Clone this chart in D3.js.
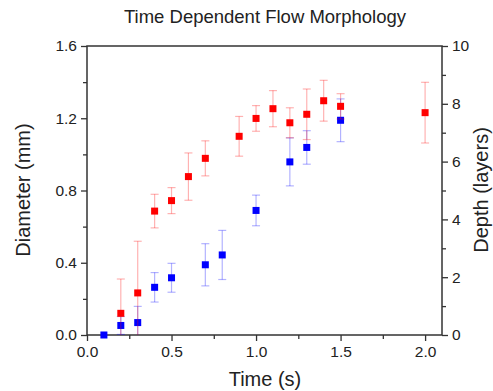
<!DOCTYPE html>
<html>
<head>
<meta charset="utf-8">
<script src="https://cdn.jsdelivr.net/npm/d3@7/dist/d3.min.js"></script>
<style>
  body { margin: 0; background: #fff; }
  svg { font-family: 'Liberation Sans', Arial, sans-serif; }
</style>
</head>
<body>
<svg id="chart" width="493" height="391"></svg>
<script>
// diameter (mm), left axis - red
const diaTime = [0.2, 0.3, 0.4, 0.5, 0.6, 0.7, 0.9, 1.0, 1.1, 1.2, 1.3, 1.4, 1.5, 2.0];
const diaValue = [0.12, 0.233, 0.686, 0.744, 0.877, 0.978, 1.1, 1.199, 1.253, 1.175, 1.222, 1.297, 1.266, 1.231];
const diaErr = [0.19, 0.286, 0.093, 0.072, 0.131, 0.097, 0.11, 0.071, 0.1, 0.083, 0.14, 0.113, 0.07, 0.168];

// depth (layers), right axis - blue
const depTime = [0.1, 0.2, 0.3, 0.4, 0.5, 0.7, 0.8, 1.0, 1.2, 1.3, 1.5];
const depValue = [0, 0.33, 0.43, 1.65, 1.98, 2.43, 2.77, 4.31, 5.99, 6.49, 7.43];
const depErr = [0, 0.31, 0.56, 0.51, 0.5, 0.73, 0.85, 0.53, 0.83, 0.58, 0.74];

const xTicks = [0, 0.5, 1.0, 1.5, 2.0];
const yLeftTicks = [0, 0.4, 0.8, 1.2, 1.6];
const yRightTicks = [0, 2, 4, 6, 8, 10];

const margin = { left: 87, right: 51, top: 46, bottom: 56 };
const svg = d3.select('#chart');
const width = +svg.attr('width');
const height = +svg.attr('height');
const innerWidth = width - margin.left - margin.right;
const innerHeight = height - margin.top - margin.bottom;
const g = svg.append('g').attr('transform', `translate(${margin.left},${margin.top})`);

const x = d3.scaleLinear().domain([0, 2.1]).range([0, innerWidth]);
const yL = d3.scaleLinear().domain([0, 1.6]).range([innerHeight, 0]);
const yR = d3.scaleLinear().domain([0, 10]).range([innerHeight, 0]);

const axisColor = '#333';

function styleAxis(sel) {
  sel.attr('font-family', null).attr('font-size', null);
  sel.select('.domain').remove();
  sel.selectAll('line').attr('stroke', axisColor).attr('stroke-width', 1.3);
  sel.selectAll('text').attr('fill', '#222').style('font-size', '15.5px');
}
function minor(sel) {
  sel.call(styleAxis);
  sel.selectAll('text').remove();
}

// minor ticks
g.append('g').attr('transform', `translate(0,${innerHeight})`)
  .call(d3.axisBottom(x).tickValues([0.25, 0.75, 1.25, 1.75]).tickSize(4))
  .call(minor);
g.append('g')
  .call(d3.axisLeft(yL).tickValues([0.2, 0.6, 1.0, 1.4]).tickSize(4))
  .call(minor);
g.append('g').attr('transform', `translate(${innerWidth},0)`)
  .call(d3.axisRight(yR).tickValues([1, 3, 5, 7, 9]).tickSize(4))
  .call(minor);

// major ticks
g.append('g').attr('transform', `translate(0,${innerHeight})`)
  .call(d3.axisBottom(x).tickValues(xTicks).tickSize(6).tickPadding(5).tickFormat(d3.format('.1f')))
  .call(styleAxis);
g.append('g')
  .call(d3.axisLeft(yL).tickValues(yLeftTicks).tickSize(6).tickPadding(4).tickFormat(d3.format('.1f')))
  .call(styleAxis);
g.append('g').attr('transform', `translate(${innerWidth},0)`)
  .call(d3.axisRight(yR).tickValues(yRightTicks).tickSize(6).tickPadding(4))
  .call(styleAxis);

// frame
g.append('rect')
  .attr('width', innerWidth)
  .attr('height', innerHeight)
  .attr('fill', 'none')
  .attr('stroke', axisColor)
  .attr('stroke-width', 1.5);

const plot = g.append('g');
plot.append('clipPath').attr('id', 'clip')
  .append('rect').attr('width', innerWidth).attr('height', innerHeight);

function drawSeries(times, values, errs, y, color) {
  const data = times.map((t, i) => ({ t, v: values[i], e: errs[i] }));
  const s = plot.append('g').attr('clip-path', 'url(#clip)');
  const eb = s.selectAll('g.err').data(data.filter((d) => d.e > 0)).enter().append('g')
    .attr('stroke', color).attr('stroke-opacity', 0.3).attr('stroke-width', 1.2);
  eb.append('line')
    .attr('x1', (d) => x(d.t)).attr('x2', (d) => x(d.t))
    .attr('y1', (d) => y(d.v - d.e)).attr('y2', (d) => y(d.v + d.e));
  eb.append('line')
    .attr('x1', (d) => x(d.t) - 4).attr('x2', (d) => x(d.t) + 4)
    .attr('y1', (d) => y(d.v + d.e)).attr('y2', (d) => y(d.v + d.e));
  eb.append('line')
    .attr('x1', (d) => x(d.t) - 4).attr('x2', (d) => x(d.t) + 4)
    .attr('y1', (d) => y(d.v - d.e)).attr('y2', (d) => y(d.v - d.e));
  plot.append('g').selectAll('rect').data(data).enter().append('rect')
    .attr('x', (d) => x(d.t) - 3.5)
    .attr('y', (d) => y(d.v) - 3.5)
    .attr('width', 7).attr('height', 7)
    .attr('fill', color);
}

drawSeries(depTime, depValue, depErr, yR, '#0000ff');
drawSeries(diaTime, diaValue, diaErr, yL, '#ff0000');

// titles
svg.append('text')
  .attr('x', 265).attr('y', 23)
  .attr('text-anchor', 'middle').style('font-size', '18.5px').attr('fill', '#222')
  .text('Time Dependent Flow Morphology');
svg.append('text')
  .attr('x', 265).attr('y', 386)
  .attr('text-anchor', 'middle').style('font-size', '20px').attr('fill', '#222')
  .text('Time (s)');
svg.append('text')
  .attr('transform', 'translate(30,190) rotate(-90)')
  .attr('text-anchor', 'middle').style('font-size', '20px').attr('fill', '#222')
  .text('Diameter (mm)');
svg.append('text')
  .attr('transform', 'translate(488,190) rotate(-90)')
  .attr('text-anchor', 'middle').style('font-size', '20px').attr('fill', '#222')
  .text('Depth (layers)');
</script>
</body>
</html>
